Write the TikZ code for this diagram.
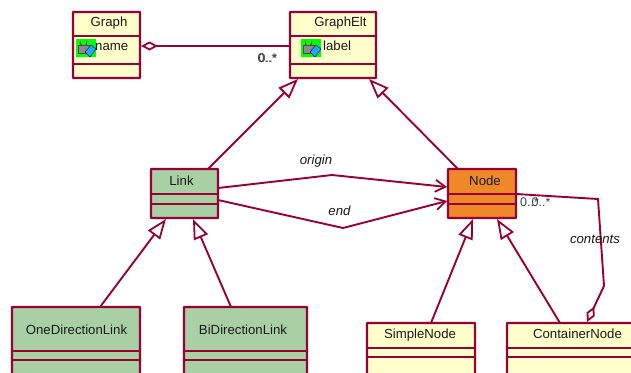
\documentclass[tikz,border=0pt]{standalone}
\usepackage{fontspec}
\setmainfont{Liberation Sans}
\usetikzlibrary{arrows.meta}
\definecolor{umlline}{HTML}{990033}
\definecolor{cream}{HTML}{FFFFCC}
\definecolor{leaf}{HTML}{A9D0A4}
\definecolor{amber}{HTML}{EE8829}
\definecolor{lockgrey}{HTML}{8A8A8A}
\definecolor{keyblue}{HTML}{22AAEE}
\tikzset{
  cls/.style={draw=umlline,line width=2.2pt,anchor=north west,inner sep=0pt,outer sep=0pt,rounded corners=0.5pt},
  compsep/.style={draw=umlline,line width=1.9pt},
  clsname/.style={font=\fontsize{13.2}{15}\selectfont,text=black!90,inner sep=0pt,anchor=base},
  rolelabel/.style={font=\fontsize{13.2}{15}\selectfont\itshape,text=black!90,inner sep=0pt,anchor=base},
  multlabel/.style={font=\fontsize{12.5}{14}\selectfont,text=black!75,inner sep=0pt,anchor=base},
  rel/.style={draw=umlline,line width=1.9pt},
  gen/.style={rel,-{Triangle[open,fill=white,length=20pt,width=15pt,line width=1.8pt]}},
  nav/.style={rel,-{Straight Barb[length=10pt,width=12pt,line width=1.8pt]}},
  agg/.style={rel,{Diamond[open,fill=white,length=17pt,width=9pt,line width=1.8pt]}-},
}
\newcommand{\lockicon}[2]{%
  \fill[green] (#1,#2) rectangle ++(19.5,18);
  \draw[black!65,line width=1.3pt] (#1+4.5,#2+6) -- (#1+4.5,#2+4.5) arc[start angle=180,end angle=0,radius=3] -- (#1+10.5,#2+6);
  \fill[lockgrey,draw=black!70,line width=.6pt] (#1+2.5,#2+6) rectangle ++(11.5,8);
  \fill[keyblue,draw=blue!60!black,line width=.4pt] (#1+9,#2+13) -- (#1+15,#2+6) -- (#1+20,#2+10) -- (#1+14,#2+18) -- cycle;
}
\begin{document}
\begin{tikzpicture}[x=1pt,y=-1pt]
\useasboundingbox (0,0) rectangle (631,372);
\clip (0,0) rectangle (631,372);
\fill[white] (0,0) rectangle (631,372);

% classes
\node[cls,fill=cream,minimum width=67pt,minimum height=66pt] (graph) at (73,12) {};
\node[cls,fill=cream,minimum width=86pt,minimum height=66pt] (elt) at (290,12) {};
\node[cls,fill=leaf,minimum width=67pt,minimum height=49pt] (link) at (151,169) {};
\node[cls,fill=amber,minimum width=68pt,minimum height=49pt] (nodec) at (448,169) {};
\node[cls,fill=leaf,minimum width=128pt,minimum height=80pt] (one) at (12,307) {};
\node[cls,fill=leaf,minimum width=123pt,minimum height=80pt] (bi) at (184,307) {};
\node[cls,fill=cream,minimum width=108pt,minimum height=70pt] (simple) at (367,323) {};
\node[cls,fill=cream,minimum width=140pt,minimum height=70pt] (cont) at (507,323) {};

% compartments
\draw[compsep] (73,36) -- (140,36) (73,64) -- (140,64);
\draw[compsep] (290,36) -- (376,36) (290,64) -- (376,64);
\draw[compsep] (151,194) -- (218,194) (151,204) -- (218,204);
\draw[compsep] (448,194) -- (516,194) (448,204) -- (516,204);
\draw[compsep] (12,351) -- (140,351) (12,360) -- (140,360);
\draw[compsep] (184,351) -- (307,351) (184,360) -- (307,360);
\draw[compsep] (367,348) -- (475,348) (367,357) -- (475,357);
\draw[compsep] (507,348) -- (631,348) (507,357) -- (631,357);

% names
\node[clsname] (tgraph) at (109,27) {Graph};
\node[clsname] (telt) at (340.5,27) {GraphElt};
\node[clsname] (tlink) at (181.5,185) {Link};
\node[clsname] (tnode) at (485,185) {Node};
\node[clsname] (tone) at (76.5,334) {OneDirectionLink};
\node[clsname] (tbi) at (243,334) {BiDirectionLink};
\node[clsname] (tsimple) at (420,338) {SimpleNode};
\node[clsname] (tcont) at (577.5,338) {ContainerNode};

% attributes
\lockicon{76}{39}
\lockicon{301}{39}
\node[clsname,anchor=base west] (aname) at (95,50) {name};
\node[clsname,anchor=base west] (alabel) at (323,50) {label};

% relation end points
\coordinate (eltw) at (290,46);
\coordinate (grapha) at (141,46);
\coordinate (g1) at (216,46);
\coordinate (lt) at (208,169);
\coordinate (et1) at (298,79);
\coordinate (nt) at (458,169);
\coordinate (et2) at (369,79);
\coordinate (lb1) at (166,219);
\coordinate (ot) at (100,307);
\coordinate (lb2) at (193,219);
\coordinate (bt) at (231,307);
\coordinate (nb1) at (473,219);
\coordinate (st) at (431,323);
\coordinate (nb2) at (497,219);
\coordinate (ct) at (560,323);
\coordinate (lr1) at (218,188);
\coordinate (o1) at (332,175);
\coordinate (nl1) at (447,187);
\coordinate (lr2) at (218,200);
\coordinate (e1) at (343,228);
\coordinate (nl2) at (447,201);
\coordinate (nr) at (516,194);
\coordinate (c1) at (598,199);
\coordinate (c2) at (604,286);
\coordinate (cd) at (587,322);

% relations
\draw[agg] (grapha) -- (g1) -- (eltw);
\draw[gen] (lt) -- (et1);
\draw[gen] (nt) -- (et2);
\draw[gen] (ot) -- (lb1);
\draw[gen] (bt) -- (lb2);
\draw[gen] (st) -- (nb1);
\draw[gen] (ct) -- (nb2);
\draw[nav] (lr1) -- (o1) -- (nl1);
\draw[nav] (lr2) -- (e1) -- (nl2);
\draw[agg] (cd) -- (c2) -- (c1) -- (nr);

% labels
\node[rolelabel] (lorigin) at (316,164) {origin};
\node[rolelabel] (lend) at (339.5,215) {end};
\node[rolelabel] (lcontents) at (595,243) {contents};
\node[multlabel] (m1) at (267,62) {0..*};
\node[multlabel] (m2) at (268,62) {0..*};
\node[multlabel] (m3) at (529.5,206) {0..*};
\node[multlabel] (m4) at (541,206) {0..*};
\end{tikzpicture}
\end{document}
